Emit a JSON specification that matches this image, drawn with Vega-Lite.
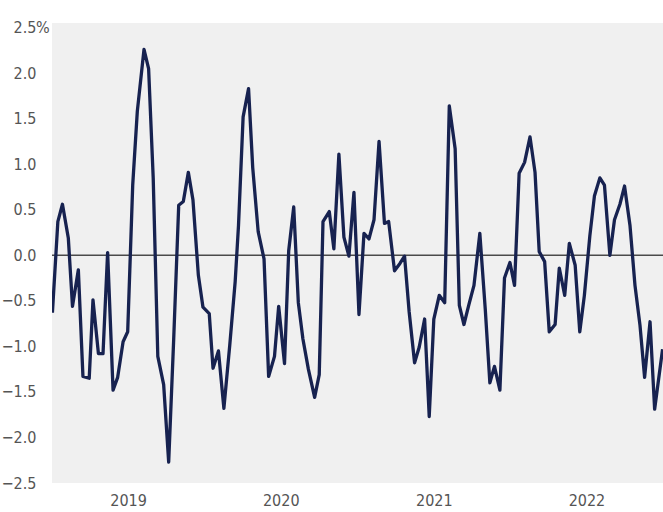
{
  "$schema": "https://vega.github.io/schema/vega-lite/v6.json",
  "width": 611,
  "height": 460,
  "autosize": {"type": "none"},
  "padding": {"left": 52, "top": 23, "right": 0, "bottom": 29},
  "background": "white",
  "config": {
    "view": {"fill": "#f0f0f0", "stroke": null},
    "axis": {"labelFont": "DejaVu Sans Condensed, Roboto, sans-serif", "labelFontSize": 16, "labelColor": "#555555", "grid": false, "domain": false, "ticks": false, "title": null}
  },
  "datasets": {
    "series": [
      {"date": "2019-01-02", "v": -0.63},
      {"date": "2019-01-15", "v": 0.37},
      {"date": "2019-01-26", "v": 0.56},
      {"date": "2019-02-09", "v": 0.19},
      {"date": "2019-02-19", "v": -0.56},
      {"date": "2019-03-05", "v": -0.16},
      {"date": "2019-03-16", "v": -1.33},
      {"date": "2019-03-31", "v": -1.35},
      {"date": "2019-04-09", "v": -0.49},
      {"date": "2019-04-22", "v": -1.08},
      {"date": "2019-05-03", "v": -1.08},
      {"date": "2019-05-14", "v": 0.03},
      {"date": "2019-05-27", "v": -1.48},
      {"date": "2019-06-07", "v": -1.34},
      {"date": "2019-06-20", "v": -0.95},
      {"date": "2019-07-01", "v": -0.84},
      {"date": "2019-07-13", "v": 0.77},
      {"date": "2019-07-24", "v": 1.58},
      {"date": "2019-08-09", "v": 2.26},
      {"date": "2019-08-20", "v": 2.05},
      {"date": "2019-08-31", "v": 0.85},
      {"date": "2019-09-11", "v": -1.11},
      {"date": "2019-09-25", "v": -1.42},
      {"date": "2019-10-07", "v": -2.27},
      {"date": "2019-10-19", "v": -0.92},
      {"date": "2019-10-31", "v": 0.55},
      {"date": "2019-11-11", "v": 0.59},
      {"date": "2019-11-23", "v": 0.91},
      {"date": "2019-12-04", "v": 0.61},
      {"date": "2019-12-17", "v": -0.22},
      {"date": "2019-12-28", "v": -0.57},
      {"date": "2020-01-12", "v": -0.64},
      {"date": "2020-01-21", "v": -1.24},
      {"date": "2020-02-03", "v": -1.05},
      {"date": "2020-02-16", "v": -1.68},
      {"date": "2020-03-01", "v": -0.99},
      {"date": "2020-03-14", "v": -0.29},
      {"date": "2020-03-22", "v": 0.33},
      {"date": "2020-04-02", "v": 1.52},
      {"date": "2020-04-15", "v": 1.83},
      {"date": "2020-04-25", "v": 0.96},
      {"date": "2020-05-08", "v": 0.26},
      {"date": "2020-05-22", "v": -0.04},
      {"date": "2020-06-02", "v": -1.33},
      {"date": "2020-06-16", "v": -1.11},
      {"date": "2020-06-26", "v": -0.56},
      {"date": "2020-07-10", "v": -1.19},
      {"date": "2020-07-20", "v": 0.05},
      {"date": "2020-08-01", "v": 0.53},
      {"date": "2020-08-12", "v": -0.52},
      {"date": "2020-08-23", "v": -0.92},
      {"date": "2020-09-05", "v": -1.25},
      {"date": "2020-09-20", "v": -1.56},
      {"date": "2020-10-01", "v": -1.31},
      {"date": "2020-10-10", "v": 0.37},
      {"date": "2020-10-25", "v": 0.48},
      {"date": "2020-11-05", "v": 0.07},
      {"date": "2020-11-17", "v": 1.11},
      {"date": "2020-11-29", "v": 0.2},
      {"date": "2020-12-11", "v": -0.01},
      {"date": "2020-12-23", "v": 0.69},
      {"date": "2021-01-04", "v": -0.65},
      {"date": "2021-01-16", "v": 0.24},
      {"date": "2021-01-28", "v": 0.18},
      {"date": "2021-02-09", "v": 0.39},
      {"date": "2021-02-21", "v": 1.25},
      {"date": "2021-03-06", "v": 0.35},
      {"date": "2021-03-16", "v": 0.37},
      {"date": "2021-03-30", "v": -0.17},
      {"date": "2021-04-12", "v": -0.09},
      {"date": "2021-04-23", "v": -0.01},
      {"date": "2021-05-04", "v": -0.62},
      {"date": "2021-05-17", "v": -1.18},
      {"date": "2021-05-28", "v": -1.01},
      {"date": "2021-06-10", "v": -0.7},
      {"date": "2021-06-21", "v": -1.77},
      {"date": "2021-07-02", "v": -0.7},
      {"date": "2021-07-15", "v": -0.44},
      {"date": "2021-07-28", "v": -0.52},
      {"date": "2021-08-08", "v": 1.64},
      {"date": "2021-08-22", "v": 1.17},
      {"date": "2021-09-01", "v": -0.55},
      {"date": "2021-09-12", "v": -0.76},
      {"date": "2021-09-24", "v": -0.54},
      {"date": "2021-10-06", "v": -0.33},
      {"date": "2021-10-20", "v": 0.24},
      {"date": "2021-11-02", "v": -0.59},
      {"date": "2021-11-13", "v": -1.4},
      {"date": "2021-11-24", "v": -1.22},
      {"date": "2021-12-07", "v": -1.48},
      {"date": "2021-12-18", "v": -0.25},
      {"date": "2021-12-31", "v": -0.08},
      {"date": "2022-01-11", "v": -0.33},
      {"date": "2022-01-22", "v": 0.9},
      {"date": "2022-02-04", "v": 1.02},
      {"date": "2022-02-17", "v": 1.3},
      {"date": "2022-03-01", "v": 0.91},
      {"date": "2022-03-11", "v": 0.04},
      {"date": "2022-03-24", "v": -0.07},
      {"date": "2022-04-04", "v": -0.84},
      {"date": "2022-04-18", "v": -0.76},
      {"date": "2022-04-28", "v": -0.14},
      {"date": "2022-05-11", "v": -0.44},
      {"date": "2022-05-22", "v": 0.13},
      {"date": "2022-06-05", "v": -0.11},
      {"date": "2022-06-16", "v": -0.84},
      {"date": "2022-06-27", "v": -0.44},
      {"date": "2022-07-10", "v": 0.21},
      {"date": "2022-07-21", "v": 0.65},
      {"date": "2022-08-03", "v": 0.85},
      {"date": "2022-08-14", "v": 0.77},
      {"date": "2022-08-27", "v": 0.0},
      {"date": "2022-09-07", "v": 0.39},
      {"date": "2022-09-20", "v": 0.56},
      {"date": "2022-10-01", "v": 0.76},
      {"date": "2022-10-14", "v": 0.33},
      {"date": "2022-10-26", "v": -0.33},
      {"date": "2022-11-07", "v": -0.77},
      {"date": "2022-11-18", "v": -1.34},
      {"date": "2022-12-01", "v": -0.73},
      {"date": "2022-12-12", "v": -1.69},
      {"date": "2022-12-31", "v": -1.03}
    ]
  },
  "layer": [
    {
      "data": {"values": [{"z": 0}]},
      "mark": {"type": "rule", "color": "#4a4a4a", "strokeWidth": 1.6},
      "encoding": {
        "y": {"field": "z", "type": "quantitative", "scale": {"domain": [-2.5, 2.55], "nice": false, "zero": false}}
      }
    },
    {
      "data": {"name": "series"},
      "mark": {"type": "line", "color": "#172250", "strokeWidth": 3.3, "strokeJoin": "round", "clip": true},
      "encoding": {
        "x": {
          "field": "date", "type": "temporal",
          "scale": {"domain": ["2019-01-01", "2023-01-01"], "nice": false},
          "axis": {
            "values": ["2019-07-02", "2020-07-01", "2021-07-02", "2022-07-02"],
            "format": "%Y", "labelPadding": 9, "labelFlush": false
          }
        },
        "y": {
          "field": "v", "type": "quantitative",
          "scale": {"domain": [-2.5, 2.55], "nice": false, "zero": false},
          "axis": {
            "values": [-2.5, -2, -1.5, -1, -0.5, 0, 0.5, 1, 1.5, 2, 2.5],
            "format": ".1f",
            "labelPadding": 16, "labelFlush": false
          }
        }
      }
    },
    {
      "data": {"values": [{"date": "2019-01-01", "v": 2.5, "t": "%"}]},
      "mark": {"type": "text", "align": "left", "baseline": "middle", "dx": -16, "font": "DejaVu Sans Condensed, Roboto, sans-serif", "fontSize": 16, "color": "#555555"},
      "encoding": {
        "x": {"field": "date", "type": "temporal"},
        "y": {"field": "v", "type": "quantitative"},
        "text": {"field": "t"}
      }
    }
  ]
}
